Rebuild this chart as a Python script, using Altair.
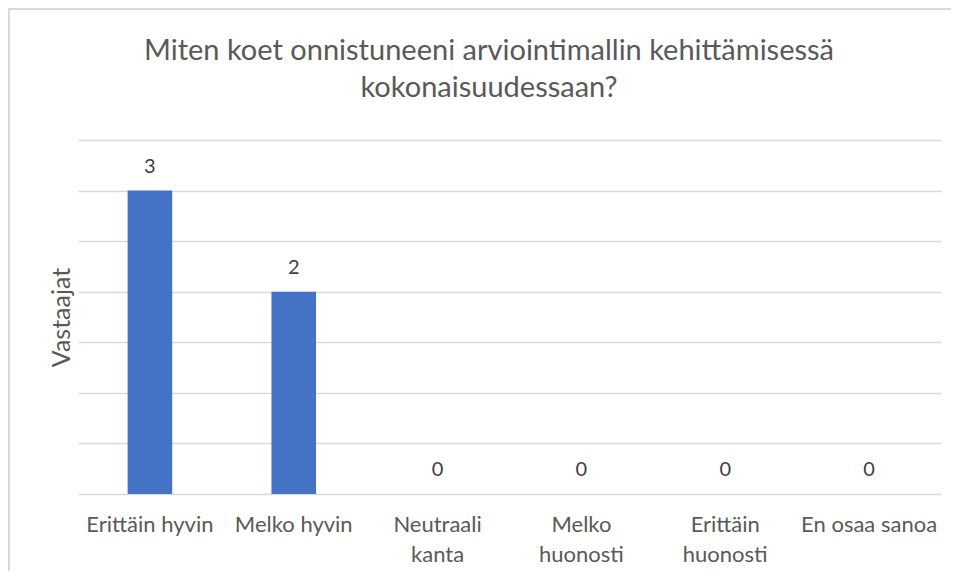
import altair as alt
import pandas as pd

categories = ["Erittäin hyvin", "Melko hyvin", "Neutraali kanta",
              "Melko huonosti", "Erittäin huonosti", "En osaa sanoa"]
wrapped = [["Erittäin hyvin"], ["Melko hyvin"], ["Neutraali", "kanta"],
           ["Melko", "huonosti"], ["Erittäin", "huonosti"], ["En osaa sanoa"]]
values = [3, 2, 0, 0, 0, 0]
title_lines = ["Miten koet onnistuneeni arviointimallin kehittämisessä",
               "kokonaisuudessaan?"]
y_title = "Vastaajat"
grid_values = [0, 0.5, 1, 1.5, 2, 2.5, 3, 3.5]

df = pd.DataFrame({"cat": categories, "val": values})

parts = []
for c, w in zip(categories, wrapped):
    arr = "[" + ",".join("'" + s + "'" for s in w) + "]"
    parts.append(f"datum.label == '{c}' ? {arr} : ")
label_expr = "".join(parts) + "datum.label"

FONT = "Lato"
GREY = "#595959"

x_enc = alt.X("cat:N", sort=categories, title=None,
              scale=alt.Scale(paddingInner=0.69, paddingOuter=0.345),
              axis=alt.Axis(labelAngle=0, labelExpr=label_expr, labelFontSize=22,
                            labelColor=GREY, labelFont=FONT, ticks=False,
                            domain=False, labelPadding=20, labelLineHeight=30,
                            labelBaseline="top"))
y_enc = alt.Y("val:Q", title=y_title,
              scale=alt.Scale(domain=[0, 3.5], nice=False),
              axis=alt.Axis(values=grid_values, labels=False, ticks=False,
                            domain=False, grid=True, gridColor="#d9d9d9",
                            gridWidth=1.5, titleFontSize=25, titleColor=GREY,
                            titleFont=FONT, titleFontWeight="normal",
                            titlePadding=4))

base = alt.Chart(df)
bars = base.mark_bar(color="#4472C4").encode(x=x_enc, y=y_enc)
text = base.mark_text(baseline="alphabetic", dy=-18, fontSize=20, color="#404040",
                      font=FONT).encode(
    x=alt.X("cat:N", sort=categories), y="val:Q", text="val:Q")

one = pd.DataFrame({"f": [0]})
frame = alt.Chart(one).mark_rect(
    fill=None, stroke="#d9d9d9", strokeWidth=2).encode(
    x=alt.value(-69), x2=alt.value(920),
    y=alt.value(-131), y2=alt.value(520))

title = alt.Chart(one).mark_text(
    text=title_lines, fontSize=29, color=GREY, font=FONT, align="center",
    baseline="alphabetic", lineHeight=37).encode(
    x=alt.value(411), y=alt.value(-80))

chart = alt.layer(frame, bars, text, title).properties(
    width=863, height=354,
    autosize=alt.AutoSizeParams(type="none"),
    padding={"left": 70, "top": 132, "right": 10, "bottom": 77},
).configure(background="white", view=alt.ViewConfig(stroke=None))

chart.save("out.html", embed_options={"renderer": "svg", "actions": False})
